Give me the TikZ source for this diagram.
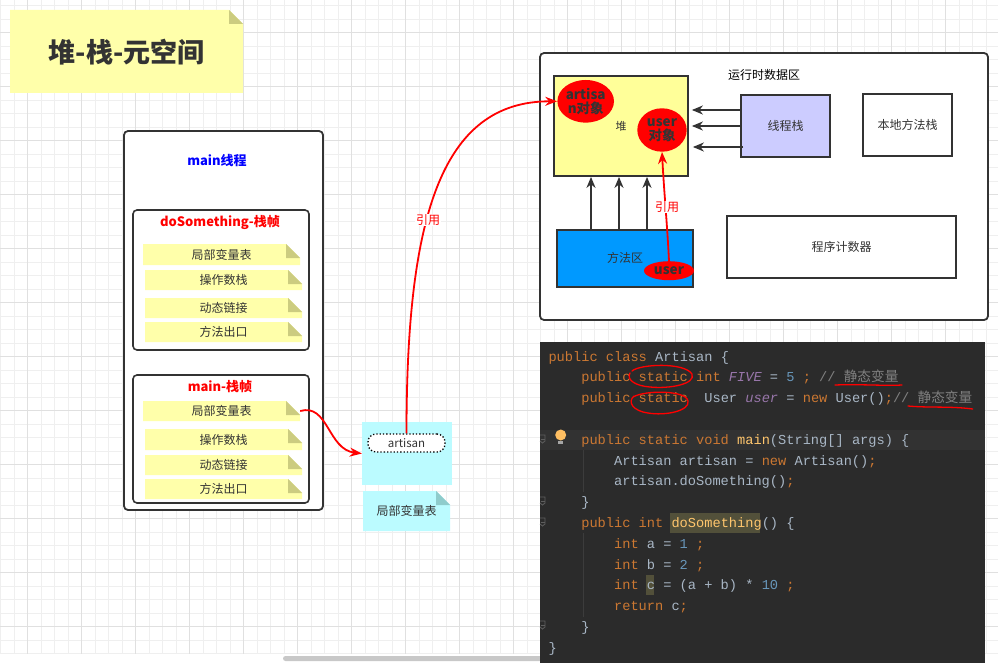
\documentclass[tikz,border=0pt]{standalone}
\usepackage{fontspec}
\setmainfont{Noto Sans CJK SC}
\setmonofont{Liberation Mono}
\newfontfamily\cjkf{Noto Sans CJK SC}
\usetikzlibrary{arrows.meta,shapes.geometric}
\definecolor{c33}{HTML}{333333}
\definecolor{gridmin}{HTML}{EFEFEF}
\definecolor{gridmaj}{HTML}{E0E0E0}
\definecolor{notey}{HTML}{FFFFAA}
\definecolor{foldy}{HTML}{CCCC80}
\definecolor{cyanbg}{HTML}{BBFBFF}
\definecolor{foldc}{HTML}{8FCCCC}
\definecolor{heapc}{HTML}{FFFF99}
\definecolor{tstack}{HTML}{CCCCFF}
\definecolor{methc}{HTML}{0099FF}
\definecolor{codebg}{HTML}{2B2B2B}
\definecolor{curline}{HTML}{323232}
\definecolor{hlbg}{HTML}{52503A}
\definecolor{ckw}{HTML}{CC7832}
\definecolor{ctx}{HTML}{A9B7C6}
\definecolor{cnum}{HTML}{6897BB}
\definecolor{cfld}{HTML}{9876AA}
\definecolor{ccom}{HTML}{808080}
\definecolor{cmeth}{HTML}{FFC66D}
\definecolor{scrollc}{HTML}{C8C8C8}
\definecolor{guide}{HTML}{3C3C3C}
\definecolor{gutmark}{HTML}{5E5E5E}
\newcommand\jkw[1]{\textcolor{ckw}{#1}}
\newcommand\jtx[1]{\textcolor{ctx}{#1}}
\newcommand\jnum[1]{\textcolor{cnum}{#1}}
\newcommand\jfld[1]{\textcolor{cfld}{\itshape #1}}
\newcommand\jcom[1]{\textcolor{ccom}{#1}}
\newcommand\jmeth[1]{\textcolor{cmeth}{#1}}
% name, x0, y0, x1, y1, fill, fold, text
\newcommand\dognote[8]{%
  \fill[#6] (#2,#3) -- ({#4-14},#3) -- (#4,{#3+14}) -- (#4,#5) -- (#2,#5) -- cycle;
  \fill[#7] ({#4-14},#3) -- ({#4-14},{#3+14}) -- (#4,{#3+14}) -- cycle;
  \node[notetext, minimum width={#4-#2}, minimum height={#5-#3}] (#1) at ({(#2+#4)/2},{(#3+#5)/2}) {#8};
}
\begin{document}
\begin{tikzpicture}[x=1pt,y=-1pt,
  gridminor/.style={draw=gridmin, line width=0.8pt},
  gridmajor/.style={draw=gridmaj, line width=0.8pt},
  frame/.style={draw=c33, line width=1.6pt, fill=white, rounded corners=4pt, inner sep=0pt},
  block/.style={draw=c33, line width=1.8pt, inner sep=0pt, text=c33, font=\fontsize{12}{14}\selectfont},
  notetext/.style={text=c33, font=\fontsize{12}{14}\selectfont, inner sep=0pt},
  lbl/.style={text=c33, font=\fontsize{12}{14}\selectfont, inner sep=0pt},
  titlelbl/.style={font=\bfseries\fontsize{13}{15}\selectfont, inner sep=0pt},
  redobj/.style={ellipse, fill=red, inner sep=0pt, text=c33, font=\bfseries\fontsize{13.5}{14.5}\selectfont, align=center},
  arr/.style={draw=c33, line width=1.8pt, -{Stealth[length=11pt,width=9pt]}},
  redarr/.style={draw=red, line width=1.8pt, -{Stealth[length=12pt,width=9pt]}},
  reflabel/.style={fill=white, text=red, inner sep=1pt, font=\fontsize{12}{14}\selectfont},
  codeline/.style={anchor=base west, inner sep=0pt, font=\ttfamily\fontsize{13.67}{16}\selectfont},
  anno/.style={draw=red, line width=1.3pt, line cap=round}
]
\useasboundingbox (0,0) rectangle (998,663);
\fill[white] (0,0) rectangle (998,663);
% grid
\foreach \i in {0,...,73} \draw[gridminor] ({0.7+13.5*\i},0) -- ({0.7+13.5*\i},653.7);
\foreach \j in {0,...,48} \draw[gridminor] (0,{5.7+13.5*\j}) -- (998,{5.7+13.5*\j});
\foreach \i in {0,...,17} \draw[gridmajor] ({27.3+54*\i},0) -- ({27.3+54*\i},653.7);
\foreach \j in {0,...,11} \draw[gridmajor] (0,{32.7+54*\j}) -- (998,{32.7+54*\j});
\fill[scrollc, rounded corners=2.5pt] (283,656) rectangle (548,661);

% title note
\fill[notey] (10,10) -- (229,10) -- (243,24) -- (243,93) -- (10,93) -- cycle;
\fill[foldy] (229,10) -- (229,24) -- (243,24) -- cycle;
\node[text=c33, font=\bfseries\fontsize{27}{30}\selectfont, inner sep=0pt] (title) at (126.5,52) {堆-栈-元空间};

% main thread
\node[frame, line width=1.8pt, minimum width=199pt, minimum height=379pt] (mt) at (223.5,320.5) {};
\node[titlelbl, text=blue] (mtl) at (217,161) {main线程};

% doSomething frame
\node[frame, minimum width=176pt, minimum height=140pt] (dsf) at (221,280) {};
\node[titlelbl, text=red] (dsfl) at (220,222) {doSomething-栈帧};
\dognote{dlv}{143}{244}{300}{265}{notey}{foldy}{局部变量表}
\dognote{dos}{145}{270}{302}{290}{notey}{foldy}{操作数栈}
\dognote{ddl}{145}{298}{302}{318}{notey}{foldy}{动态链接}
\dognote{dex}{145}{322}{302}{342}{notey}{foldy}{方法出口}

% main frame
\node[frame, minimum width=176pt, minimum height=128pt] (mf) at (221,439) {};
\node[titlelbl, text=red] (mfl) at (220,387) {main-栈帧};
\dognote{mlv}{143}{401}{300}{421}{notey}{foldy}{局部变量表}
\dognote{mos}{145}{429}{302}{450}{notey}{foldy}{操作数栈}
\dognote{mdl}{145}{455}{302}{475}{notey}{foldy}{动态链接}
\dognote{mex}{145}{479}{302}{499}{notey}{foldy}{方法出口}

% artisan local var
\node[fill=cyanbg, minimum width=90pt, minimum height=63pt, inner sep=0pt] (artbox) at (407,453.5) {};
\node[draw=black, dotted, line width=1.3pt, fill=white, rounded corners=8pt, minimum width=77pt, minimum height=18pt, inner sep=0pt, text=c33, font=\fontsize{11.5}{13}\selectfont] (artd) at (406.5,443) {artisan};
\dognote{clv}{363}{491}{450}{531}{cyanbg}{foldc}{局部变量表}

% runtime data area
\node[frame, line width=1.8pt, minimum width=448pt, minimum height=267pt] (rda) at (764,186.5) {};
\node[text=black, font=\fontsize{12}{14}\selectfont, inner sep=0pt] (rdal) at (764,75) {运行时数据区};
\node[block, fill=heapc, minimum width=134pt, minimum height=100pt, font=\fontsize{11}{13}\selectfont] (heap) at (621,126) {堆};
\node[block, fill=tstack, minimum width=89pt, minimum height=62pt] (ts) at (785.5,126) {线程栈};
\node[block, fill=white, minimum width=89pt, minimum height=62pt] (nms) at (907.5,125) {本地方法栈};
\node[block, fill=methc, minimum width=136pt, minimum height=57pt] (ma) at (625,258.5) {};
\node[lbl] (mal) at (625,258) {方法区};
\node[block, fill=white, minimum width=229pt, minimum height=62pt] (pc) at (841.5,247) {程序计数器};

\node[redobj, minimum width=56.6pt, minimum height=42.6pt] (aobj) at (585.7,101.3) {artisa\\n对象};
\node[redobj, minimum width=49.4pt, minimum height=43.4pt] (uobj) at (662,130) {user\\对象};
\node[redobj, minimum width=50pt, minimum height=19pt] (umeth) at (669,270.7) {user};

% thread stack -> heap
\draw[arr, shorten >=3pt] ([yshift=16pt]ts.west) -- ([yshift=16pt]ts.west -| heap.east);
\draw[arr, shorten >=3pt] (ts.west) -- (ts.west -| heap.east);
\draw[arr, shorten >=4pt] ([yshift=-21pt,xshift=3pt]ts.west) -- ([yshift=-21pt]ts.west -| heap.east);
% method area -> heap
\draw[arr] ([xshift=-34pt]ma.north) -- ([xshift=-34pt]ma.north |- heap.south);
\draw[arr] ([xshift=-6pt]ma.north) -- ([xshift=-6pt]ma.north |- heap.south);
\draw[arr] ([xshift=22pt]ma.north) -- ([xshift=22pt]ma.north |- heap.south);

% red references
\draw[redarr] (umeth.north) .. controls +(-2,-40) and +(2,40) .. (uobj.south);
\node[reflabel] (ref2) at (667,207) {引用};
\draw[redarr] (mlv.east) .. controls +(28,-8) and +(-34,-4) .. (artbox.west);
\draw[redarr] (artd.north) .. controls +(0,-214) and +(-117,0) .. (aobj.west);
\node[reflabel] (ref1) at (428,220) {引用};

% code panel
\fill[codebg] (540,342) rectangle (985,663);
\fill[curline] (540,430) rectangle (985,450);
\fill[hlbg] (670,512.7) rectangle (759.5,532.7);
\fill[hlbg] (645.7,575) rectangle (654,595);
\draw[guide, line width=0.8pt] (583,450) -- (583,492);
\draw[guide, line width=0.8pt] (583,533) -- (583,617);
\foreach \yy in {439,501,522,625} {
  \draw[gutmark, line width=0.8pt] (540,{\yy-4}) -- (545,{\yy-4}) -- (545,{\yy+2}) -- (542.5,{\yy+4}) -- (540,{\yy+2});
  \draw[gutmark, line width=0.8pt] (540.5,\yy) -- (544.5,\yy);
}
% light bulb
\fill[cmeth!90!orange] (560.7,435) circle[radius=5.5pt];
\fill[gray!70] (558,440.5) rectangle (563.4,444);

\node[codeline] (l1) at (548.3,361) {\jkw{public class} \jtx{Artisan \{}};
\node[codeline] (l2) at (581.1,381.8) {\jkw{public static int} \jfld{FIVE} \jtx{=} \jnum{5} \jkw{;} \jcom{// {\cjkf 静态变量}}};
\node[codeline] (l3) at (581.1,402.6) {\jkw{public static}\ \ \jtx{User} \jfld{user} \jtx{=} \jkw{new} \jtx{User()}\jkw{;}\jcom{// {\cjkf 静态变量}}};
\node[codeline] (l5) at (581.1,444.2) {\jkw{public static void} \jmeth{main}\jtx{(String[] args) \{}};
\node[codeline] (l6) at (613.9,465) {\jtx{Artisan artisan =} \jkw{new} \jtx{Artisan()}\jkw{;}};
\node[codeline] (l7) at (613.9,485.8) {\jtx{artisan.doSomething()}\jkw{;}};
\node[codeline] (l8) at (581.1,506.6) {\jtx{\}}};
\node[codeline] (l9) at (581.1,527.4) {\jkw{public int} \jmeth{doSomething}\jtx{() \{}};
\node[codeline] (l10) at (613.9,548.2) {\jkw{int} \jtx{a =} \jnum{1} \jkw{;}};
\node[codeline] (l11) at (613.9,569) {\jkw{int} \jtx{b =} \jnum{2} \jkw{;}};
\node[codeline] (l12) at (613.9,589.8) {\jkw{int} \jtx{c = (a + b) *} \jnum{10} \jkw{;}};
\node[codeline] (l13) at (613.9,610.6) {\jkw{return} \jtx{c}\jkw{;}};
\node[codeline] (l14) at (581.1,631.4) {\jtx{\}}};
\node[codeline] (l15) at (548.3,652.2) {\jtx{\}}};

% red annotations on code
\draw[anno] (632,371) .. controls (640,364) and (684,362) .. (692,374) .. controls (696,384) and (670,389) .. (650,387) .. controls (636,386) and (626,380) .. (630,373);
\draw[anno] (633,397) .. controls (645,390) and (686,390) .. (688,401) .. controls (690,411) and (665,416) .. (648,413) .. controls (633,411) and (627,402) .. (634,396);
\draw[anno] (835,385) .. controls (860,384) and (885,386) .. (902,385);
\draw[anno] (908,406) .. controls (930,408) and (950,406) .. (972.7,409);
\end{tikzpicture}
\end{document}
